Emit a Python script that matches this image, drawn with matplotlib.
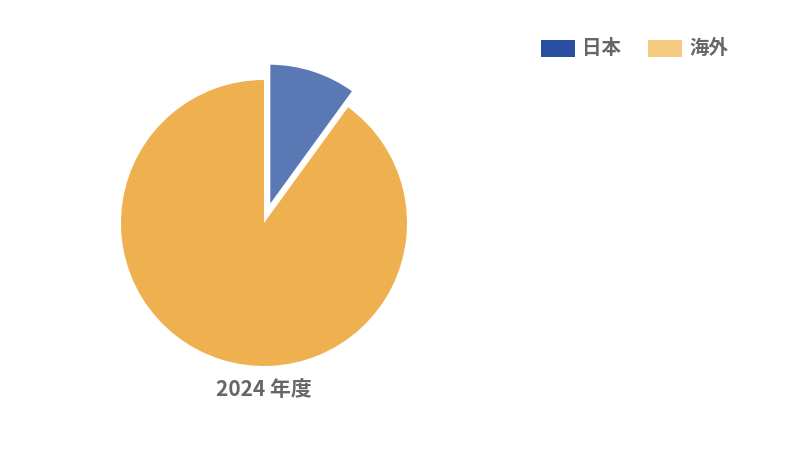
import matplotlib

matplotlib.use("Agg")
import matplotlib.patches as mpatches
import matplotlib.pyplot as plt

plt.rcParams["font.family"] = ["Noto Sans CJK JP", "DejaVu Sans"]

# data
labels = ["日本", "海外"]
shares = [10, 90]
year_label = "2024 年度"

SLICE_COLORS = ["#5a78b4", "#efb050"]
LEGEND_COLORS = ["#2a4fa0", "#f5c97f"]
TEXT_COLOR = "#666666"

W, H = 800, 451
fig = plt.figure(figsize=(W / 100, H / 100), dpi=100)

# pie axes: centre (264, 223) px, radius 143 px
cx, cy, r = 264, 223, 143
half = 150
ax = fig.add_axes([(cx - half) / W, (H - cy - half) / H, 2 * half / W, 2 * half / H])
wedges, _ = ax.pie(
    shares,
    colors=SLICE_COLORS,
    startangle=90,
    counterclock=False,
    explode=[0.12, 0],
    radius=1,
)
wedges[0].set_edgecolor("white")
wedges[0].set_linewidth(1.5)
lim = half / r
ax.set_xlim(-lim, lim)
ax.set_ylim(-lim, lim)
ax.set_aspect("equal")
ax.axis("off")

ax.text(0, -(389 - cy) / r, year_label, ha="center", va="center",
        fontsize=15, fontweight="bold", color=TEXT_COLOR)

# legend, drawn by hand
legend_x = [541, 648]
for x0, lab, col in zip(legend_x, labels, LEGEND_COLORS):
    fig.add_artist(mpatches.Rectangle(
        (x0 / W, (H - 57) / H), 34 / W, 17 / H,
        transform=fig.transFigure, facecolor=col, edgecolor="none"))
    fig.text((x0 + 41) / W, (H - 48) / H, lab, ha="left", va="center",
             fontsize=14, fontweight="bold", color=TEXT_COLOR)

plt.savefig("out.png", dpi=100)
plt.close()
